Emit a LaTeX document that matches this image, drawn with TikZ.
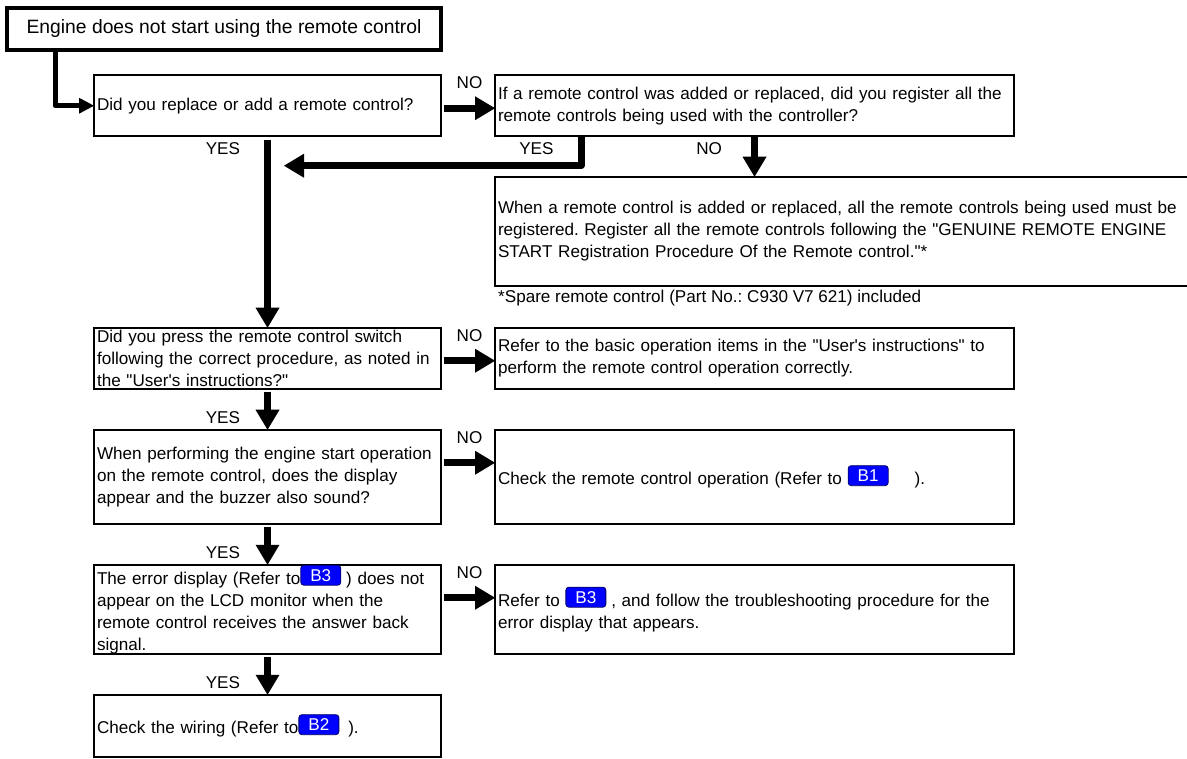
\documentclass[tikz,border=0pt]{standalone}
\usepackage{fontspec}
\setmainfont{Liberation Sans}
\usetikzlibrary{arrows.meta, positioning, calc}

\newcommand{\boxfont}{\fontsize{17.1pt}{22pt}\selectfont\frenchspacing\lineskiplimit=-20pt\relax}
\newcommand{\refbadge}[1]{\tikz[baseline={([yshift=-3pt]b.base)}]\node[badge] (b) {#1};}
\newcommand{\qq}{\textquotedbl}

\begin{document}
\begin{tikzpicture}[
  headbox/.style = {draw, line width=4pt, outer sep=0pt, minimum width=434pt, minimum height=42.5pt,
                    font=\fontsize{19.3pt}{22pt}\selectfont},
  qbox/.style    = {draw, line width=2pt, outer sep=0pt, text width=341pt, inner xsep=3pt, inner ysep=0pt, align=left, font=\boxfont},
  rbox/.style    = {qbox, text width=513pt},
  notebox/.style = {qbox, text width=694pt},
  badge/.style   = {draw=black!60!blue, line width=0.8pt, fill=blue, text=white, rounded corners=3pt, text width={}, align=center,
                    text height=12pt, text depth=0pt, minimum width=40pt, minimum height=20pt, inner sep=0pt, outer sep=0pt, font=\boxfont},
  lbl/.style     = {font=\boxfont, inner sep=3pt},
  arrow/.style   = {line width=7pt, line join=round, -{Triangle[width=24pt, length=20pt, line width=0pt]}},
  thinarrow/.style = {line width=5pt, line join=round, -{Triangle[width=16pt, length=15pt, line width=0pt]}}
]
  \useasboundingbox (0,0) rectangle (1187pt,-759pt);

  % problem statement
  \node[headbox] (start) at (224pt,-29pt) {Engine does not start using the remote control};

  % first question and its NO answer
  \node[qbox, minimum height=61pt, below=25pt of start.south east, anchor=north east] (q1)
    {Did you replace or add a remote control?};
  \node[rbox, minimum height=61pt, right=54pt of q1] (q2)
    {If a remote control was added or replaced, did you register all the\\
     remote controls being used with the controller?};

  % registration note below q2
  \node[notebox, minimum height=109pt, below=40.5pt of q2.south west, anchor=north west] (note)
    {When a remote control is added or replaced, all the remote controls being used must be\\
     registered. Register all the remote controls following the \qq GENUINE REMOTE ENGINE\\
     START Registration Procedure Of the Remote control.\qq*};
  \node[lbl, inner sep=0pt, below=4pt of note.south west, anchor=north west, xshift=3pt] (spare)
    {*Spare remote control (Part No.: C930 V7 621) included};

  % main column of checks
  \node[qbox, minimum height=61pt, below=191.5pt of q1] (q3)
    {Did you press the remote control switch\\
     following the correct procedure, as noted in\\
     the \qq User\textquotesingle s instructions?\qq};
  \node[rbox, minimum height=61pt, right=54pt of q3] (r3)
    {Refer to the basic operation items in the \qq User\textquotesingle s instructions\qq{} to\\
     perform the remote control operation correctly.};

  \node[qbox, minimum height=94pt, below=41pt of q3] (q4)
    {When performing the engine start operation\\
     on the remote control, does the display\\
     appear and the buzzer also sound?};
  \node[rbox, minimum height=94pt, right=54pt of q4] (r4)
    {Check the remote control operation (Refer to \refbadge{B1}\hspace{26pt}).};

  \node[qbox, minimum height=89pt, below=41pt of q4] (q5)
    {The error display (Refer to\refbadge{B3}\hspace{5pt}) does not\\
     appear on the LCD monitor when the\\
     remote control receives the answer back\\
     signal.};
  \node[rbox, minimum height=89pt, right=54pt of q5] (r5)
    {Refer to \refbadge{B3}\hspace{5pt}, and follow the troubleshooting procedure for the\\
     error display that appears.};

  \node[qbox, minimum height=62pt, below=41pt of q5] (q6)
    {Check the wiring (Refer to\refbadge{B2}\hspace{9pt}).};

  % start to first question
  \draw[thinarrow] ([xshift=48pt]start.south west) |- (q1.west);

  % NO branches to the right
  \draw[arrow] ([shift={(3pt,-33pt)}]q1.north east) -- node[lbl, above=13pt] {NO} ([yshift=-33pt]q2.north west);
  \draw[arrow] ([shift={(3pt,-33pt)}]q3.north east) -- node[lbl, above=13pt] {NO} ([yshift=-33pt]r3.north west);
  \draw[arrow] ([shift={(3pt,-33pt)}]q4.north east) -- node[lbl, above=13pt] {NO} ([yshift=-33pt]r4.north west);
  \draw[arrow] ([shift={(3pt,-33pt)}]q5.north east) -- node[lbl, above=13pt] {NO} ([yshift=-33pt]r5.north west);

  % YES from q1 down to q3
  \coordinate (merge) at ([shift={(16.5pt,-29.5pt)}]q1.south);
  \draw[arrow] ([yshift=-4pt]q1.south) -- node[lbl, pos=0, anchor=north east, xshift=-21pt, yshift=4pt] {YES} (q3.north);

  % answers of q2
  \draw[arrow] ([xshift=86pt]q2.south west) |- node[lbl, pos=0, anchor=north east, xshift=-21pt] {YES} (merge);
  \draw[arrow] (q2.south) -- node[lbl, pos=0, anchor=north east, xshift=-26pt] {NO} (q2.south |- note.north);

  % YES down the column
  \draw[arrow] ([yshift=-3pt]q3.south) -- node[lbl, pos=1, anchor=south east, xshift=-21pt] {YES} (q4.north);
  \draw[arrow] ([yshift=-3pt]q4.south) -- node[lbl, pos=1, anchor=south east, xshift=-21pt] {YES} (q5.north);
  \draw[arrow] ([yshift=-3pt]q5.south) -- node[lbl, pos=1, anchor=south east, xshift=-21pt] {YES} (q6.north);

\end{tikzpicture}
\end{document}
